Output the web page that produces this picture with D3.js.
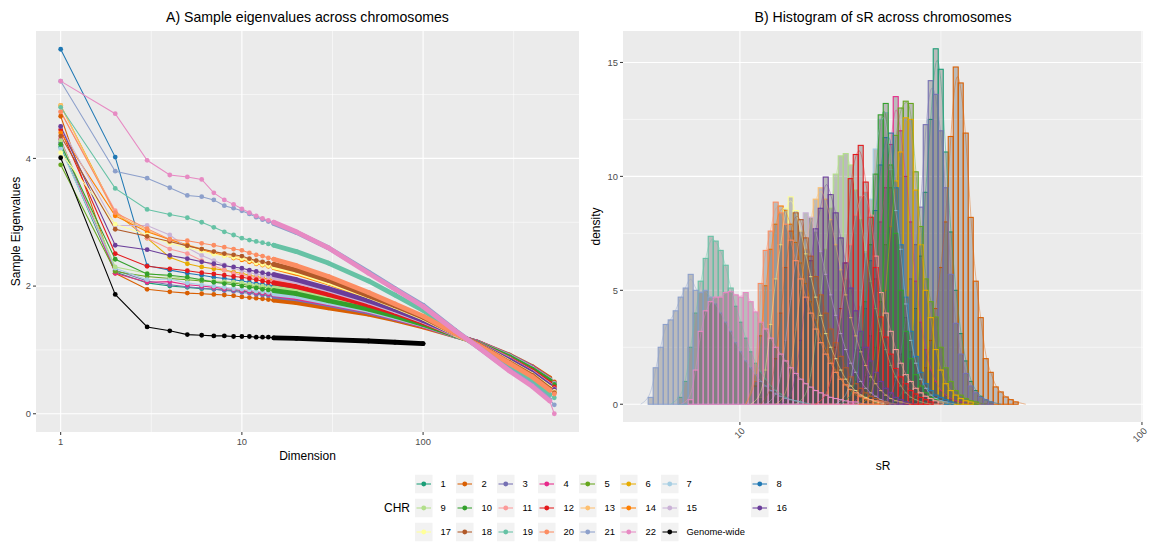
<!DOCTYPE html>
<html>
<head>
<meta charset="utf-8">
<script src="https://cdn.jsdelivr.net/npm/d3@7"></script>
<style>
  body { margin: 0; background: #fff; }
  svg { font-family: "Liberation Sans", Arial, sans-serif; }
</style>
</head>
<body>
<svg id="chart" width="1150" height="542"></svg>
<script>
'use strict';

// ---- data -------------------------------------------------------------
var chrLabels = ['1', '2', '3', '4', '5', '6', '7', '8', '9', '10', '11', '12', '13', '14', '15', '16',
    '17', '18', '19', '20', '21', '22', 'Genome-wide'];
var chrColors = ['#1B9E77', '#D95F02', '#7570B3', '#E7298A', '#66A61E', '#E6AB02', '#A6CEE3', '#1F78B4',
    '#B2DF8A', '#33A02C', '#FB9A99', '#E31A1C', '#FDBF6F', '#FF7F00', '#CAB2D6', '#6A3D9A',
    '#FFFF99', '#B15928', '#66C2A5', '#FC8D62', '#8DA0CB', '#E78AC3', '#000000'];

// dimensions at which eigenvalues were read
var eigDims = [1, 2, 3, 4, 5, 6, 7, 8, 9, 10, 11, 12, 13, 14, 15, 20, 30, 50, 70, 100, 150, 200, 300, 400, 500, 530];

// sample eigenvalues per chromosome (same order as eigDims); genome-wide stops at 100
var eigValues = [
    [4.18, 2.22, 2.05, 2.00, 1.98, 1.96, 1.95, 1.94, 1.93, 1.92, 1.91, 1.89, 1.88, 1.87, 1.86, 1.81, 1.72, 1.60, 1.50, 1.38, 1.23, 1.12, 0.90, 0.72, 0.54, 0.48],
    [4.66, 2.20, 1.95, 1.91, 1.89, 1.88, 1.87, 1.86, 1.85, 1.83, 1.82, 1.81, 1.80, 1.79, 1.78, 1.74, 1.66, 1.56, 1.47, 1.36, 1.22, 1.12, 0.92, 0.74, 0.56, 0.50],
    [4.25, 2.25, 2.08, 2.02, 1.99, 1.97, 1.95, 1.93, 1.92, 1.90, 1.89, 1.87, 1.86, 1.85, 1.84, 1.80, 1.71, 1.59, 1.49, 1.38, 1.22, 1.12, 0.91, 0.73, 0.54, 0.48],
    [4.30, 2.20, 2.06, 2.07, 2.02, 2.00, 1.98, 1.96, 1.95, 1.93, 1.92, 1.90, 1.89, 1.88, 1.87, 1.82, 1.73, 1.61, 1.50, 1.38, 1.23, 1.12, 0.90, 0.72, 0.53, 0.47],
    [3.90, 2.23, 2.15, 2.12, 2.10, 2.08, 2.07, 2.06, 2.05, 2.03, 2.01, 1.99, 1.98, 1.97, 1.96, 1.90, 1.80, 1.65, 1.54, 1.41, 1.23, 1.11, 0.88, 0.70, 0.51, 0.45],
    [4.83, 3.15, 2.75, 2.45, 2.35, 2.30, 2.27, 2.25, 2.22, 2.20, 2.17, 2.15, 2.13, 2.11, 2.10, 2.04, 1.91, 1.73, 1.60, 1.45, 1.24, 1.10, 0.85, 0.66, 0.46, 0.40],
    [4.15, 2.28, 2.10, 2.11, 2.05, 2.02, 2.00, 1.98, 1.96, 1.95, 1.94, 1.92, 1.91, 1.90, 1.88, 1.84, 1.74, 1.62, 1.51, 1.39, 1.23, 1.11, 0.90, 0.71, 0.53, 0.47],
    [5.71, 4.02, 2.32, 2.25, 2.20, 2.17, 2.14, 2.12, 2.10, 2.08, 2.06, 2.04, 2.03, 2.01, 2.00, 1.94, 1.83, 1.68, 1.56, 1.42, 1.23, 1.11, 0.87, 0.68, 0.50, 0.44],
    [4.28, 2.30, 2.20, 2.15, 2.12, 2.10, 2.08, 2.07, 2.06, 2.05, 2.03, 2.01, 2.00, 1.98, 1.97, 1.92, 1.81, 1.66, 1.55, 1.41, 1.23, 1.11, 0.88, 0.69, 0.50, 0.44],
    [4.22, 2.42, 2.19, 2.17, 2.14, 2.10, 2.06, 2.04, 2.02, 2.00, 1.98, 1.97, 1.95, 1.94, 1.93, 1.88, 1.77, 1.64, 1.53, 1.40, 1.23, 1.11, 0.89, 0.70, 0.52, 0.46],
    [4.73, 3.18, 2.75, 2.58, 2.51, 2.40, 2.32, 2.25, 2.20, 2.17, 2.15, 2.13, 2.11, 2.09, 2.08, 2.01, 1.89, 1.72, 1.59, 1.44, 1.24, 1.10, 0.86, 0.66, 0.47, 0.41],
    [4.45, 2.51, 2.31, 2.27, 2.24, 2.21, 2.19, 2.17, 2.15, 2.14, 2.12, 2.10, 2.08, 2.06, 2.05, 1.99, 1.87, 1.70, 1.58, 1.43, 1.24, 1.10, 0.86, 0.67, 0.48, 0.42],
    [4.83, 3.12, 2.88, 2.72, 2.65, 2.58, 2.53, 2.50, 2.47, 2.45, 2.42, 2.39, 2.37, 2.34, 2.32, 2.23, 2.08, 1.85, 1.68, 1.50, 1.26, 1.09, 0.81, 0.60, 0.40, 0.34],
    [4.40, 3.10, 2.85, 2.73, 2.64, 2.57, 2.52, 2.48, 2.44, 2.41, 2.38, 2.35, 2.33, 2.31, 2.29, 2.20, 2.05, 1.83, 1.67, 1.49, 1.25, 1.09, 0.82, 0.61, 0.41, 0.35],
    [4.50, 2.95, 2.95, 2.80, 2.60, 2.48, 2.40, 2.33, 2.28, 2.24, 2.21, 2.19, 2.17, 2.15, 2.14, 2.07, 1.94, 1.75, 1.61, 1.45, 1.24, 1.10, 0.85, 0.65, 0.45, 0.39],
    [4.50, 2.64, 2.57, 2.48, 2.43, 2.38, 2.35, 2.32, 2.30, 2.28, 2.25, 2.23, 2.21, 2.19, 2.18, 2.10, 1.96, 1.77, 1.63, 1.46, 1.25, 1.10, 0.84, 0.64, 0.44, 0.38],
    [4.09, 2.97, 2.80, 2.67, 2.60, 2.55, 2.50, 2.47, 2.45, 2.43, 2.40, 2.36, 2.34, 2.32, 2.30, 2.22, 2.06, 1.84, 1.68, 1.50, 1.25, 1.09, 0.81, 0.61, 0.41, 0.35],
    [4.35, 2.89, 2.78, 2.70, 2.63, 2.58, 2.54, 2.51, 2.49, 2.47, 2.43, 2.40, 2.38, 2.36, 2.34, 2.25, 2.09, 1.85, 1.69, 1.51, 1.26, 1.09, 0.80, 0.60, 0.39, 0.33],
    [4.80, 3.53, 3.20, 3.12, 3.07, 3.00, 2.92, 2.85, 2.80, 2.75, 2.72, 2.70, 2.68, 2.66, 2.64, 2.54, 2.36, 2.08, 1.86, 1.62, 1.28, 1.06, 0.74, 0.52, 0.30, 0.25],
    [4.73, 3.15, 2.90, 2.73, 2.71, 2.67, 2.64, 2.61, 2.58, 2.56, 2.52, 2.49, 2.47, 2.44, 2.42, 2.32, 2.15, 1.90, 1.72, 1.53, 1.26, 1.08, 0.79, 0.58, 0.37, 0.31],
    [5.21, 3.80, 3.69, 3.54, 3.42, 3.40, 3.35, 3.26, 3.22, 3.18, 3.13, 3.08, 3.04, 3.01, 2.98, 2.84, 2.60, 2.22, 1.96, 1.70, 1.31, 1.05, 0.68, 0.45, 0.22, 0.14],
    [5.21, 4.70, 3.97, 3.74, 3.71, 3.67, 3.46, 3.35, 3.28, 3.21, 3.15, 3.10, 3.06, 3.03, 3.00, 2.85, 2.60, 2.20, 1.95, 1.68, 1.30, 1.05, 0.67, 0.43, 0.20, 0.00],
    [4.01, 1.87, 1.36, 1.30, 1.24, 1.23, 1.22, 1.22, 1.21, 1.21, 1.21, 1.20, 1.20, 1.20, 1.19, 1.18, 1.16, 1.14, 1.12, 1.10]
];

// histogram of sR: bins on log10(sR), first bin edge and width
var sRLog10First = 0.7719;
var sRLog10BinWidth = 0.012438;
var sRBinCount = 97;
var sRLimits = [5.12, 100.6];

// first non-empty bin of each chromosome, and the densities from there on
var histStartBin = [50, 53, 48, 42, 43, 44, 39, 40, 31, 40, 35, 35, 27, 21, 25, 28, 22, 24, 6, 21, 0, 8];
var histDensity = [
    [0.3, 1.0, 2.3, 4.2, 6.5, 9.3, 12.5, 15.6, 14.7, 11.07, 7.56, 5.0, 3.1, 1.9, 1.0, 0.6, 0.35, 0.2, 0.1],
    [0.3, 0.8, 1.6, 2.8, 4.2, 6.0, 8.0, 11.75, 14.8, 14.1, 11.9, 8.2, 5.4, 3.8, 2.0, 1.4, 0.76, 0.54, 0.32, 0.2, 0.1],
    [0.3, 1.0, 2.2, 3.8, 5.5, 7.0, 8.65, 12.27, 14.2, 13.6, 12.0, 9.5, 5.7, 3.55, 2.2, 1.35, 0.8, 0.5, 0.3, 0.2, 0.1],
    [0.3, 1.2, 3.0, 5.5, 8.0, 9.5, 11.4, 13.5, 12.0, 10.0, 8.0, 5.4, 3.6, 2.4, 1.5, 1.0, 0.6, 0.4, 0.25, 0.15, 0.1],
    [0.3, 1.0, 2.5, 4.5, 7.0, 9.5, 11.8, 13.0, 13.3, 13.2, 10.2, 7.8, 5.5, 4.5, 3.83, 2.5, 1.6, 1.0, 0.6, 0.4, 0.25, 0.15, 0.1],
    [0.3, 1.2, 2.8, 5.0, 7.8, 9.8, 11.07, 12.57, 12.5, 9.4, 7.0, 5.0, 3.8, 2.4, 1.5, 0.9, 0.6, 0.4, 0.25, 0.15, 0.1],
    [0.3, 1.0, 2.4, 4.3, 6.6, 9.0, 11.2, 12.5, 12.8, 10.3, 8.5, 6.8, 4.4, 2.8, 1.8, 1.1, 0.7, 0.4, 0.25, 0.15, 0.1],
    [0.3, 1.0, 2.4, 4.2, 6.3, 8.5, 10.5, 11.7, 11.9, 9.5, 7.0, 4.7, 3.2, 2.1, 1.4, 0.9, 0.6, 0.4, 0.3, 0.2, 0.1],
    [0.3, 1.2, 2.8, 4.8, 6.8, 8.6, 10.1, 10.9, 11.0, 10.5, 9.4, 8.1, 6.7, 5.4, 4.2, 3.2, 2.4, 1.7, 1.2, 0.8, 0.5, 0.3, 0.2, 0.1],
    [0.3, 1.0, 2.5, 4.5, 7.0, 10.1, 12.7, 13.2, 10.5, 7.5, 5.0, 3.2, 2.0, 1.3, 0.8, 0.5, 0.3, 0.2, 0.1],
    [0.3, 1.0, 2.2, 3.8, 5.5, 7.0, 8.3, 9.1, 9.3, 8.3, 6.5, 4.9, 4.0, 3.2, 2.4, 1.8, 1.3, 1.0, 0.7, 0.5, 0.35, 0.25, 0.15, 0.1],
    [0.3, 1.0, 2.5, 4.2, 6.2, 9.9, 10.96, 11.36, 9.75, 8.2, 6.0, 3.83, 2.95, 2.2, 1.57, 1.2, 0.9, 0.6, 0.45, 0.3, 0.2, 0.1],
    [0.3, 1.5, 3.2, 5.0, 6.8, 8.2, 9.0, 9.5, 9.0, 8.1, 7.0, 5.9, 4.8, 3.8, 3.0, 2.3, 1.7, 1.2, 0.9, 0.6, 0.4, 0.25, 0.15, 0.1],
    [0.8, 3.0, 5.2, 6.8, 7.9, 8.7, 8.5, 7.9, 7.1, 6.2, 5.3, 4.5, 3.7, 3.0, 2.4, 1.9, 1.5, 1.1, 0.8, 0.6, 0.4, 0.3, 0.2, 0.1],
    [0.3, 1.2, 2.8, 4.6, 6.3, 7.6, 8.4, 8.2, 7.6, 6.7, 5.7, 4.8, 3.9, 3.1, 2.4, 1.8, 1.4, 1.0, 0.7, 0.5, 0.35, 0.2, 0.1],
    [0.3, 1.2, 2.8, 4.6, 6.3, 7.7, 8.6, 9.97, 9.2, 8.4, 7.3, 6.2, 5.1, 4.1, 3.2, 2.5, 1.9, 1.4, 1.0, 0.7, 0.5, 0.3, 0.2, 0.1],
    [0.3, 1.5, 3.5, 5.5, 7.0, 8.6, 9.1, 8.5, 7.6, 6.6, 5.6, 4.7, 3.9, 3.1, 2.5, 2.0, 1.5, 1.1, 0.8, 0.6, 0.4, 0.3, 0.2, 0.1],
    [0.5, 2.0, 4.0, 6.0, 7.6, 8.4, 8.1, 7.3, 6.5, 5.6, 4.8, 4.0, 3.3, 2.7, 2.1, 1.6, 1.2, 0.9, 0.7, 0.5, 0.35, 0.25, 0.15, 0.1],
    [0.3, 1.0, 2.5, 4.0, 5.4, 6.4, 7.37, 7.16, 6.75, 6.1, 5.1, 4.3, 3.6, 2.9, 2.3, 1.8, 1.4, 1.1, 0.8, 0.6, 0.45, 0.3, 0.2, 0.15, 0.1],
    [1.0, 5.3, 6.75, 7.6, 8.87, 8.4, 7.9, 7.2, 6.3, 5.5, 4.7, 4.0, 3.3, 2.7, 2.2, 1.8, 1.4, 1.1, 0.85, 0.65, 0.5, 0.35, 0.25, 0.2, 0.15, 0.1],
    [0.3, 1.6, 2.5, 3.5, 3.7, 4.1, 4.7, 5.1, 5.7, 5.0, 4.9, 5.0, 4.7, 4.4, 4.0, 3.6, 3.2, 2.7, 2.3, 1.9, 1.6, 1.3, 1.0, 0.8, 0.6, 0.45, 0.35, 0.25, 0.2, 0.15, 0.1],
    [0.2, 1.5, 3.2, 4.1, 4.5, 4.7, 4.7, 4.9, 4.95, 4.8, 4.7, 4.9, 4.5, 4.05, 3.6, 3.3, 2.9, 2.5, 2.2, 1.9, 1.6, 1.35, 1.1, 0.9, 0.75, 0.6, 0.5, 0.4, 0.3, 0.25, 0.2, 0.15, 0.1, 0.1]
];

// ---- layout -----------------------------------------------------------
var svg = d3.select('#chart');
var panelBg = '#ebebeb', tickColor = '#333333', tickTextColor = '#4d4d4d';
var panelA = {left: 36, right: 579, top: 31, bottom: 432};
var panelB = {left: 623, right: 1143, top: 31, bottom: 422};

function expandLog(ext, mult) {
    var l0 = Math.log10(ext[0]), l1 = Math.log10(ext[1]), pad = (l1 - l0) * mult;
    return [Math.pow(10, l0 - pad), Math.pow(10, l1 + pad)];
}

function expandLin(ext, mult) {
    var pad = (ext[1] - ext[0]) * mult;
    return [ext[0] - pad, ext[1] + pad];
}

function drawPanel(p, xScale, yScale, xMajor, xMinor, yMajor, yMinor, clipId) {
    var g = svg.append('g');
    g.append('rect')
        .attr('x', p.left).attr('y', p.top)
        .attr('width', p.right - p.left).attr('height', p.bottom - p.top)
        .attr('fill', panelBg);
    svg.append('clipPath').attr('id', clipId)
        .append('rect')
        .attr('x', p.left).attr('y', p.top)
        .attr('width', p.right - p.left).attr('height', p.bottom - p.top);

    function vline(v, w) {
        g.append('line').attr('x1', xScale(v)).attr('x2', xScale(v))
            .attr('y1', p.top).attr('y2', p.bottom)
            .attr('stroke', '#fff').attr('stroke-width', w);
    }
    function hline(v, w) {
        g.append('line').attr('y1', yScale(v)).attr('y2', yScale(v))
            .attr('x1', p.left).attr('x2', p.right)
            .attr('stroke', '#fff').attr('stroke-width', w);
    }
    xMinor.forEach(function (v) { vline(v, 0.55); });
    yMinor.forEach(function (v) { hline(v, 0.55); });
    xMajor.forEach(function (v) { vline(v, 1.1); });
    yMajor.forEach(function (v) { hline(v, 1.1); });

    // y ticks
    yMajor.forEach(function (v) {
        svg.append('line').attr('x1', p.left - 3).attr('x2', p.left)
            .attr('y1', yScale(v)).attr('y2', yScale(v))
            .attr('stroke', tickColor).attr('stroke-width', 1);
        svg.append('text').attr('x', p.left - 5).attr('y', yScale(v))
            .attr('dy', '0.35em').attr('text-anchor', 'end')
            .attr('font-size', 9.4).attr('fill', tickTextColor)
            .text(v);
    });
    // x ticks (marks only)
    xMajor.forEach(function (v) {
        svg.append('line').attr('x1', xScale(v)).attr('x2', xScale(v))
            .attr('y1', p.bottom).attr('y2', p.bottom + 3)
            .attr('stroke', tickColor).attr('stroke-width', 1);
    });
    return g;
}

// ---- panel A: eigenvalues ------------------------------------------------
var allEig = d3.merge(eigValues);
var xA = d3.scaleLog().domain(expandLog(d3.extent(eigDims), 0.05)).range([panelA.left, panelA.right]);
var yA = d3.scaleLinear().domain(expandLin(d3.extent(allEig), 0.05)).range([panelA.bottom, panelA.top]);

drawPanel(panelA, xA, yA, [1, 10, 100], [Math.sqrt(10), Math.sqrt(1000), Math.sqrt(100000)],
    [0, 2, 4], [1, 3, 5], 'clipA');

[1, 10, 100].forEach(function (v) {
    svg.append('text').attr('x', xA(v)).attr('y', panelA.bottom + 13)
        .attr('text-anchor', 'middle').attr('font-size', 9.4).attr('fill', tickTextColor)
        .text(v);
});

var seriesA = eigValues.map(function (vals, i) {
    return {
        idx: i,
        pts: vals.map(function (v, j) { return [eigDims[j], v]; })
    };
});

var lineA = d3.line().x(function (d) { return xA(d[0]); }).y(function (d) { return yA(d[1]); });
var gA = svg.append('g').attr('clip-path', 'url(#clipA)');

gA.selectAll('.eig-line')
    .data(seriesA)
    .enter().append('path')
    .attr('class', 'eig-line')
    .attr('d', function (d) { return lineA(d.pts); })
    .attr('fill', 'none')
    .attr('stroke', function (d) { return chrColors[d.idx]; })
    .attr('stroke-width', 1.05);

// points: where markers at consecutive dimensions touch (15 <= dim <= 500) they form a solid band
seriesA.forEach(function (s) {
    var col = chrColors[s.idx];
    var dense = s.pts.filter(function (d) { return d[0] >= 15 && d[0] <= 500; });
    gA.append('path')
        .attr('d', lineA(dense))
        .attr('fill', 'none')
        .attr('stroke', col)
        .attr('stroke-width', 4.8)
        .attr('stroke-linecap', 'round')
        .attr('stroke-linejoin', 'round');
    gA.selectAll(null)
        .data(s.pts)
        .enter().append('circle')
        .attr('cx', function (d) { return xA(d[0]); })
        .attr('cy', function (d) { return yA(d[1]); })
        .attr('r', 2.4)
        .attr('fill', col);
});

// ---- panel B: histograms -------------------------------------------------
var xB = d3.scaleLog().domain(sRLimits).range([panelB.left, panelB.right]);
var maxDensity = d3.max(histDensity, function (h) { return d3.max(h); });
var yB = d3.scaleLinear().domain(expandLin([0, maxDensity], 0.05)).range([panelB.bottom, panelB.top]);

drawPanel(panelB, xB, yB, [10, 100], [Math.sqrt(1000)], [0, 5, 10, 15], [2.5, 7.5, 12.5], 'clipB');

[10, 100].forEach(function (v) {
    svg.append('text')
        .attr('transform', 'translate(' + (xB(v) + 1) + ',' + (panelB.bottom + 5) + ') rotate(-45)')
        .attr('text-anchor', 'end').attr('dy', '0.7em')
        .attr('font-size', 9.4).attr('fill', tickTextColor)
        .text(v);
});

function binEdge(k) { return Math.pow(10, sRLog10First + k * sRLog10BinWidth); }
function binCenter(k) { return Math.pow(10, sRLog10First + (k + 0.5) * sRLog10BinWidth); }

var gB = svg.append('g').attr('clip-path', 'url(#clipB)');

histDensity.forEach(function (vals, i) {
    var start = histStartBin[i];
    var bins = d3.range(sRBinCount).map(function (k) {
        var j = k - start;
        return {k: k, d: (j >= 0 && j < vals.length) ? vals[j] : 0};
    });
    gB.selectAll(null)
        .data(bins)
        .enter().append('rect')
        .attr('x', function (b) { return xB(binEdge(b.k)); })
        .attr('width', function (b) { return xB(binEdge(b.k + 1)) - xB(binEdge(b.k)); })
        .attr('y', function (b) { return yB(b.d); })
        .attr('height', function (b) { return yB(0) - yB(b.d); })
        .attr('fill', '#4d4d4d')
        .attr('fill-opacity', 0.3)
        .attr('stroke', chrColors[i])
        .attr('stroke-width', 1.1);
});

// density curves
var densLine = d3.line()
    .x(function (d) { return xB(d[0]); })
    .y(function (d) { return yB(d[1]); })
    .curve(d3.curveBasis);

histDensity.forEach(function (vals, i) {
    var start = histStartBin[i];
    var pts = [[binCenter(start - 2), 0]]
        .concat(vals.map(function (v, j) { return [binCenter(start + j), v]; }))
        .concat([[binCenter(start + vals.length + 1), 0]]);
    gB.append('path')
        .attr('d', densLine(pts))
        .attr('fill', 'none')
        .attr('stroke', chrColors[i])
        .attr('stroke-opacity', 0.6)
        .attr('stroke-width', 0.7);
});

// ---- titles ---------------------------------------------------------------
function centerText(x, y, str, size, rotate) {
    var t = svg.append('text')
        .attr('text-anchor', 'middle')
        .attr('font-size', size)
        .attr('fill', '#000')
        .text(str);
    if (rotate) {
        t.attr('transform', 'translate(' + x + ',' + y + ') rotate(-90)');
    } else {
        t.attr('x', x).attr('y', y);
    }
}

centerText((panelA.left + panelA.right) / 2, 22, 'A) Sample eigenvalues across chromosomes', 14.1);
centerText((panelB.left + panelB.right) / 2, 22, 'B) Histogram of sR across chromosomes', 14.1);
centerText((panelA.left + panelA.right) / 2, 460, 'Dimension', 12);
centerText((panelB.left + panelB.right) / 2, 470, 'sR', 12);
centerText(20, (panelA.top + panelA.bottom) / 2, 'Sample Eigenvalues', 12, true);
centerText(600, (panelB.top + panelB.bottom) / 2, 'density', 12, true);

// ---- legend ---------------------------------------------------------------
var legendCols = [415, 456, 497, 538, 579, 620, 661, 751];
var legendRows = [484, 508, 532];
var keyW = 17.5, keyH = 18.5;

svg.append('text')
    .attr('x', 384).attr('y', legendRows[1]).attr('dy', '0.35em')
    .attr('font-size', 12).text('CHR');

var legend = svg.append('g');
chrLabels.forEach(function (lab, i) {
    var col = legendCols[i % 8], row = legendRows[Math.floor(i / 8)];
    var key = legend.append('g').attr('transform', 'translate(' + col + ',' + row + ')');
    key.append('rect')
        .attr('x', 0).attr('y', -keyH / 2)
        .attr('width', keyW).attr('height', keyH)
        .attr('fill', '#f2f2f2');
    key.append('line')
        .attr('x1', 1.5).attr('x2', keyW - 1.5)
        .attr('y1', 0).attr('y2', 0)
        .attr('stroke', chrColors[i]).attr('stroke-width', 1.05);
    key.append('circle')
        .attr('cx', keyW / 2).attr('cy', 0).attr('r', 2.4)
        .attr('fill', chrColors[i]);
    key.append('text')
        .attr('x', 25.5).attr('y', 0).attr('dy', '0.35em')
        .attr('font-size', 9.4)
        .text(lab);
});
</script>
</body>
</html>
